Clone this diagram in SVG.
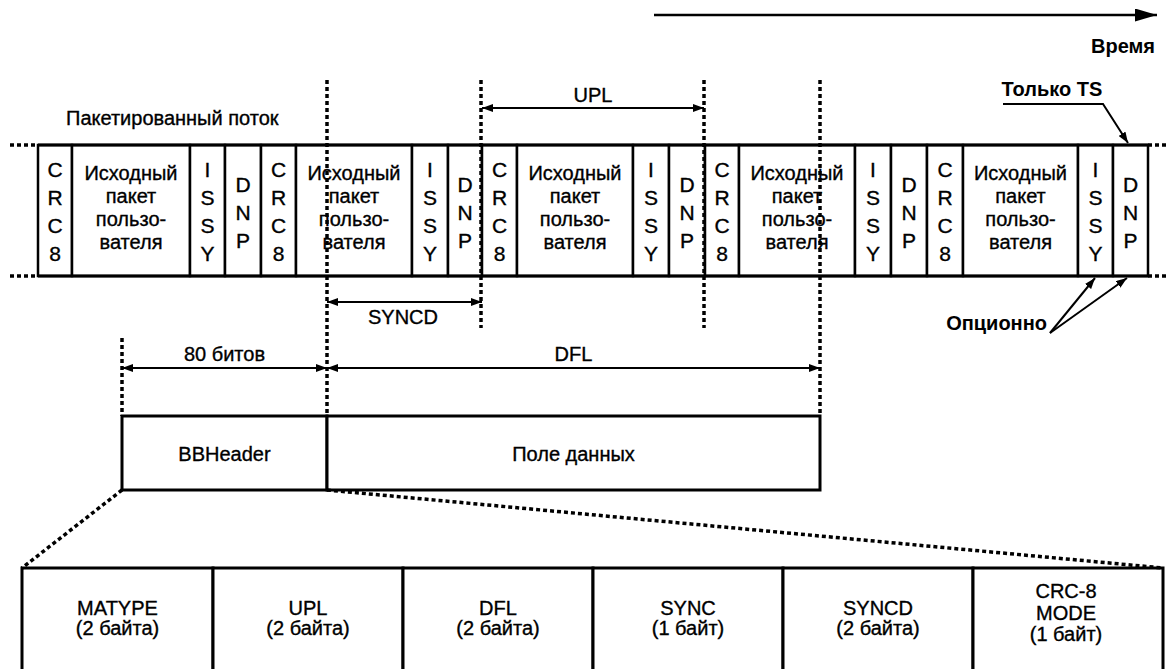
<svg xmlns="http://www.w3.org/2000/svg" width="1169" height="669" viewBox="0 0 1169 669">
<style>
text{font-family:"Liberation Sans",Arial,sans-serif;font-size:20px;fill:#000;stroke:#000;stroke-width:0.35}
.m{text-anchor:middle}
.b{font-weight:bold;stroke-width:0}
.v{font-size:21px}
.cell{fill:#fff;stroke:#000;stroke-width:2.5}
.box{fill:#fff;stroke:#000;stroke-width:3}
.dot{fill:none;stroke:#000;stroke-width:3.5;stroke-dasharray:4 3}
.ln{fill:none;stroke:#000;stroke-width:2}
.band{fill:none;stroke:#000;stroke-width:3}
</style>
<defs>
<marker id="ah" markerUnits="userSpaceOnUse" markerWidth="11" markerHeight="8" refX="11" refY="4" orient="auto-start-reverse"><path d="M0,0 L11,4 L0,8 z" fill="#000"/></marker>
<marker id="big" markerUnits="userSpaceOnUse" markerWidth="22" markerHeight="13" refX="22" refY="6.5" orient="auto"><path d="M0,0 L22,6.5 L0,13 z" fill="#000"/></marker>
</defs>

<g id="time">
<line x1="654" y1="15" x2="1157" y2="15" stroke="#000" stroke-width="2.5" marker-end="url(#big)"/>
<text x="1155" y="53" text-anchor="end" class="b">Время</text>
</g>

<g id="stream-label"><text x="66" y="125">Пакетированный поток</text></g>

<g id="stream">
<g id="c1"><rect class="cell" x="38" y="145" width="34" height="131"/><text class="m v"><tspan x="55" y="177">C</tspan><tspan x="55" y="205">R</tspan><tspan x="55" y="233">C</tspan><tspan x="55" y="261">8</tspan></text></g>
<g id="c2"><rect class="cell" x="72" y="145" width="118" height="131"/><text class="m"><tspan x="131" y="180">Исходный</tspan><tspan x="131" y="203">пакет</tspan><tspan x="131" y="226">пользо-</tspan><tspan x="131" y="249">вателя</tspan></text></g>
<g id="c3"><rect class="cell" x="190" y="145" width="35" height="131"/><text class="m v"><tspan x="207.5" y="177">I</tspan><tspan x="207.5" y="205">S</tspan><tspan x="207.5" y="233">S</tspan><tspan x="207.5" y="261">Y</tspan></text></g>
<g id="c4"><rect class="cell" x="225" y="145" width="36" height="131"/><text class="m v"><tspan x="243" y="192">D</tspan><tspan x="243" y="220">N</tspan><tspan x="243" y="248">P</tspan></text></g>
<g id="c5"><rect class="cell" x="261" y="145" width="35" height="131"/><text class="m v"><tspan x="278.5" y="177">C</tspan><tspan x="278.5" y="205">R</tspan><tspan x="278.5" y="233">C</tspan><tspan x="278.5" y="261">8</tspan></text></g>
<g id="c6"><rect class="cell" x="296" y="145" width="116" height="131"/><text class="m"><tspan x="354" y="180">Исходный</tspan><tspan x="354" y="203">пакет</tspan><tspan x="354" y="226">пользо-</tspan><tspan x="354" y="249">вателя</tspan></text></g>
<g id="c7"><rect class="cell" x="412" y="145" width="36" height="131"/><text class="m v"><tspan x="430" y="177">I</tspan><tspan x="430" y="205">S</tspan><tspan x="430" y="233">S</tspan><tspan x="430" y="261">Y</tspan></text></g>
<g id="c8"><rect class="cell" x="448" y="145" width="34" height="131"/><text class="m v"><tspan x="465" y="192">D</tspan><tspan x="465" y="220">N</tspan><tspan x="465" y="248">P</tspan></text></g>
<g id="c9"><rect class="cell" x="482" y="145" width="35" height="131"/><text class="m v"><tspan x="499.5" y="177">C</tspan><tspan x="499.5" y="205">R</tspan><tspan x="499.5" y="233">C</tspan><tspan x="499.5" y="261">8</tspan></text></g>
<g id="c10"><rect class="cell" x="517" y="145" width="116" height="131"/><text class="m"><tspan x="575" y="180">Исходный</tspan><tspan x="575" y="203">пакет</tspan><tspan x="575" y="226">пользо-</tspan><tspan x="575" y="249">вателя</tspan></text></g>
<g id="c11"><rect class="cell" x="633" y="145" width="36" height="131"/><text class="m v"><tspan x="651" y="177">I</tspan><tspan x="651" y="205">S</tspan><tspan x="651" y="233">S</tspan><tspan x="651" y="261">Y</tspan></text></g>
<g id="c12"><rect class="cell" x="669" y="145" width="36" height="131"/><text class="m v"><tspan x="687" y="192">D</tspan><tspan x="687" y="220">N</tspan><tspan x="687" y="248">P</tspan></text></g>
<g id="c13"><rect class="cell" x="705" y="145" width="34" height="131"/><text class="m v"><tspan x="722" y="177">C</tspan><tspan x="722" y="205">R</tspan><tspan x="722" y="233">C</tspan><tspan x="722" y="261">8</tspan></text></g>
<g id="c14"><rect class="cell" x="739" y="145" width="116" height="131"/><text class="m"><tspan x="797" y="180">Исходный</tspan><tspan x="797" y="203">пакет</tspan><tspan x="797" y="226">пользо-</tspan><tspan x="797" y="249">вателя</tspan></text></g>
<g id="c15"><rect class="cell" x="855" y="145" width="36" height="131"/><text class="m v"><tspan x="873" y="177">I</tspan><tspan x="873" y="205">S</tspan><tspan x="873" y="233">S</tspan><tspan x="873" y="261">Y</tspan></text></g>
<g id="c16"><rect class="cell" x="891" y="145" width="36" height="131"/><text class="m v"><tspan x="909" y="192">D</tspan><tspan x="909" y="220">N</tspan><tspan x="909" y="248">P</tspan></text></g>
<g id="c17"><rect class="cell" x="927" y="145" width="36" height="131"/><text class="m v"><tspan x="945" y="177">C</tspan><tspan x="945" y="205">R</tspan><tspan x="945" y="233">C</tspan><tspan x="945" y="261">8</tspan></text></g>
<g id="c18"><rect class="cell" x="963" y="145" width="115" height="131"/><text class="m"><tspan x="1020.5" y="180">Исходный</tspan><tspan x="1020.5" y="203">пакет</tspan><tspan x="1020.5" y="226">пользо-</tspan><tspan x="1020.5" y="249">вателя</tspan></text></g>
<g id="c19"><rect class="cell" x="1078" y="145" width="35" height="131"/><text class="m v"><tspan x="1095.5" y="177">I</tspan><tspan x="1095.5" y="205">S</tspan><tspan x="1095.5" y="233">S</tspan><tspan x="1095.5" y="261">Y</tspan></text></g>
<g id="c20"><rect class="cell" x="1113" y="145" width="35" height="131"/><text class="m v"><tspan x="1130.5" y="192">D</tspan><tspan x="1130.5" y="220">N</tspan><tspan x="1130.5" y="248">P</tspan></text></g>
<path class="band" d="M38,145 H1148 M38,276 H1148"/>
<path class="dot" d="M10,145 H38 M10,276 H38 M1148,145 H1166 M1148,276 H1166"/>
</g>

<g id="bbframe">
<g id="bbheader"><rect class="box" x="122" y="416" width="205" height="74"/><text class="m" x="224.5" y="461">BBHeader</text></g>
<g id="datafield"><rect class="box" x="327" y="416" width="493" height="74"/><text class="m" x="573.5" y="461">Поле данных</text></g>
</g>

<g id="header-fields">
<g id="f1"><rect class="box" x="22" y="568" width="191" height="110"/><text class="m"><tspan x="117.5" y="615">MATYPE</tspan><tspan x="117.5" y="635">(2 байта)</tspan></text></g>
<g id="f2"><rect class="box" x="213" y="568" width="190" height="110"/><text class="m"><tspan x="308" y="615">UPL</tspan><tspan x="308" y="635">(2 байта)</tspan></text></g>
<g id="f3"><rect class="box" x="403" y="568" width="190" height="110"/><text class="m"><tspan x="498" y="615">DFL</tspan><tspan x="498" y="635">(2 байта)</tspan></text></g>
<g id="f4"><rect class="box" x="593" y="568" width="190" height="110"/><text class="m"><tspan x="688" y="615">SYNC</tspan><tspan x="688" y="635">(1 байт)</tspan></text></g>
<g id="f5"><rect class="box" x="783" y="568" width="190" height="110"/><text class="m"><tspan x="878" y="615">SYNCD</tspan><tspan x="878" y="635">(2 байта)</tspan></text></g>
<g id="f6"><rect class="box" x="973" y="568" width="190" height="110"/><text class="m"><tspan x="1066" y="598">CRC-8</tspan><tspan x="1066" y="620">MODE</tspan><tspan x="1066" y="641">(1 байт)</tspan></text></g>
</g>

<g id="connectors">
<path class="dot" d="M327,80 V416 M481,80 V328 M704,80 V328 M820,80 V416 M122,338 V416"/>
<path class="dot" d="M122,490 L22,568 M327,490 L1163,568"/>
<line class="ln" x1="482" y1="108" x2="704" y2="108" marker-start="url(#ah)" marker-end="url(#ah)"/>
<line class="ln" x1="327" y1="302" x2="482" y2="302" marker-start="url(#ah)" marker-end="url(#ah)"/>
<line class="ln" x1="122" y1="368" x2="327" y2="368" marker-start="url(#ah)" marker-end="url(#ah)"/>
<line class="ln" x1="327" y1="368" x2="820" y2="368" marker-start="url(#ah)" marker-end="url(#ah)"/>
<polyline class="ln" points="1003,104 1103,104 1128,143" marker-end="url(#ah)"/>
<line class="ln" x1="1050" y1="333" x2="1095" y2="278" marker-end="url(#ah)"/>
<line class="ln" x1="1050" y1="333" x2="1127" y2="278" marker-end="url(#ah)"/>
</g>

<g id="labels">
<text class="m" x="593" y="102">UPL</text>
<text class="m" x="403" y="324">SYNCD</text>
<text class="m" x="224.5" y="361">80 битов</text>
<text class="m" x="573.5" y="361">DFL</text>
<text class="m b" x="1052" y="96">Только TS</text>
<text class="b" x="1047" y="330" text-anchor="end">Опционно</text>
</g>
</svg>
